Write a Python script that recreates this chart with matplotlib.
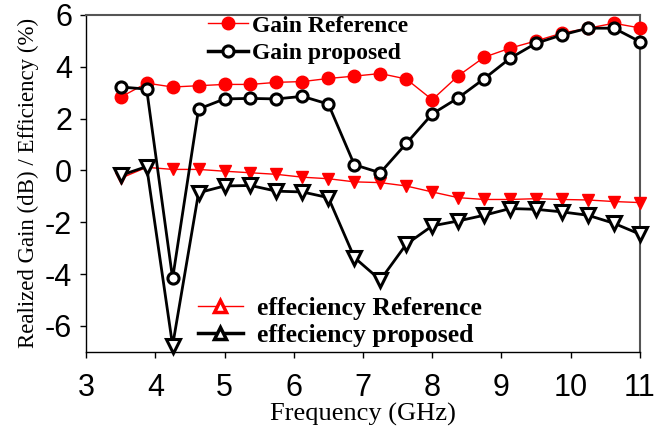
import numpy as np
import matplotlib.pyplot as plt
from matplotlib.lines import Line2D

# frequency sweep (GHz)
freq = 3.5 + 0.375 * np.arange(21)

gain_ref = [2.83, 3.37, 3.22, 3.27, 3.32, 3.32, 3.40, 3.43, 3.55, 3.64, 3.74,
            3.53, 2.73, 3.65, 4.37, 4.72, 5.00, 5.30, 5.49, 5.68, 5.50]
gain_prop = [3.22, 3.14, -4.17, 2.37, 2.76, 2.78, 2.76, 2.86, 2.56, 0.22, -0.09,
             1.04, 2.18, 2.80, 3.54, 4.33, 4.91, 5.23, 5.49, 5.49, 4.97]
eff_ref = [-0.30, 0.12, 0.04, 0.04, -0.03, -0.09, -0.15, -0.26, -0.32, -0.44, -0.47,
           -0.60, -0.83, -1.05, -1.12, -1.12, -1.09, -1.12, -1.14, -1.20, -1.24]
eff_prop = [-0.19, 0.15, -6.76, -0.86, -0.60, -0.58, -0.80, -0.83, -1.05, -3.36, -4.23,
            -2.85, -2.14, -1.95, -1.73, -1.47, -1.50, -1.60, -1.73, -2.04, -2.46]

xticks = [3, 4, 5, 6, 7, 8, 9, 10, 11]
yticks = [-6, -4, -2, 0, 2, 4, 6]


def main():
    fig = plt.figure(figsize=(6.57, 4.28), dpi=100)
    ax = fig.add_axes([0.131, 0.178, 0.843, 0.787])

    ax.plot(freq, gain_ref, color='red', lw=1, marker='o', ms=9,
            mfc='red', mec='red', clip_on=False, zorder=3)
    ax.plot(freq, eff_ref, color='red', lw=1, marker='v', ms=9,
            mfc='red', mec='red', clip_on=False, zorder=3)
    ax.plot(freq, gain_prop, color='black', lw=2, marker='o', ms=8,
            mfc='white', mec='black', mew=2.2, clip_on=False, zorder=4)
    ax.plot(freq, eff_prop, color='black', lw=2, marker='v', ms=10,
            mfc='white', mec='black', mew=2.2, clip_on=False, zorder=4)

    ax.set_xlim(3, 11)
    ax.set_ylim(-7, 6)
    ax.set_xticks(xticks)
    ax.set_yticks(yticks)
    tick_font = dict(family='Liberation Sans', size=22)
    ax.set_xticklabels([str(t) for t in xticks], fontdict=tick_font)
    ax.set_yticklabels([str(t) for t in yticks], fontdict=tick_font)
    ax.tick_params(direction='out', length=4, width=1, pad=6)
    ax.tick_params(axis='x', pad=11)

    for side in ['top', 'right']:
        ax.spines[side].set_color('#555555')
        ax.spines[side].set_linewidth(1.5)
    for side in ['left', 'bottom']:
        ax.spines[side].set_linewidth(1)

    ax.set_xlabel('Frequency (GHz)', family='Liberation Serif', size=19, labelpad=0)
    ax.set_ylabel('Realized Gain (dB) / Efficiency (%)', family='Liberation Serif',
                  size=16.5, labelpad=4)

    gain_handles = [
        Line2D([], [], color='red', lw=1, marker='o', ms=9, mfc='red', mec='red'),
        Line2D([], [], color='black', lw=2.5, marker='o', ms=8, mfc='white',
               mec='black', mew=2.2),
    ]
    leg1 = ax.legend(gain_handles, ['Gain Reference', 'Gain proposed'],
                     loc='upper left', bbox_to_anchor=(0.22, 1.0), frameon=False,
                     prop=dict(family='Liberation Serif', weight='bold', size=17),
                     handlelength=1.7, handletextpad=0.17,
                     labelspacing=0.27, borderpad=0, borderaxespad=0)
    ax.add_artist(leg1)

    eff_handles = [
        Line2D([], [], color='red', lw=1, marker='^', ms=9, mfc='white', mec='red',
               mew=2.5),
        Line2D([], [], color='black', lw=2.5, marker='^', ms=9, mfc='white',
               mec='black', mew=2.5),
    ]
    ax.legend(eff_handles, ['effeciency Reference', 'effeciency proposed'],
              loc='upper left', bbox_to_anchor=(0.202, 0.162), frameon=False,
              prop=dict(family='Liberation Serif', weight='bold', size=18.5),
              handlelength=1.75, handletextpad=0.55,
              labelspacing=0.13, borderpad=0, borderaxespad=0)

    fig.savefig('out.png', dpi=100)


if __name__ == "__main__":
    main()
